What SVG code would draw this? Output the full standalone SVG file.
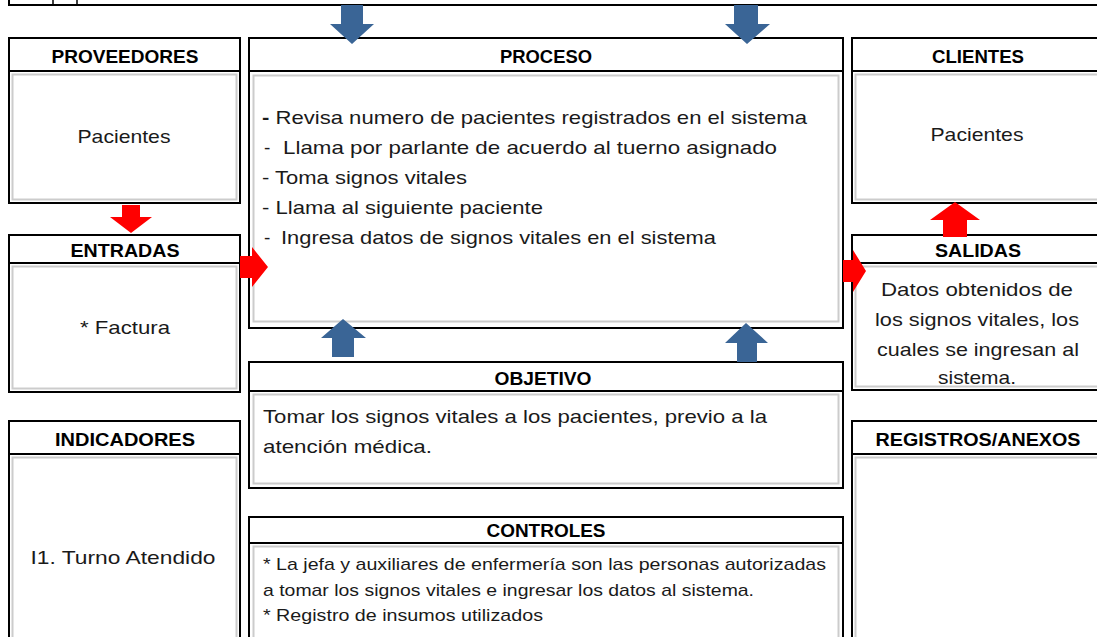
<svg xmlns="http://www.w3.org/2000/svg" width="1097" height="637" viewBox="0 0 1097 637">
<style>
.outer{fill:#fff;stroke:#000;stroke-width:2}
.inner{fill:none;stroke:#cccccc;stroke-width:2}
.sep{stroke:#000;stroke-width:2}
.hd{font-family:"Liberation Sans",Arial,sans-serif;font-weight:bold;font-size:19px;fill:#000;text-anchor:middle}
.tx{font-family:"Liberation Sans",Arial,sans-serif;font-size:19px;fill:#1a1a1a}
.c{text-anchor:middle}
.sm{font-size:17px}
.blue{fill:#3A6596}
.red{fill:#FF0000}
</style>
<rect width="1097" height="637" fill="#fff"/>
<g id="top-remnant">
<rect x="9" y="-10" width="1100" height="15" fill="none" stroke="#000" stroke-width="2"/>
<line x1="53" y1="0" x2="53" y2="5" stroke="#000" stroke-width="1.5"/>
<line x1="77" y1="0" x2="77" y2="5" stroke="#000" stroke-width="1.5"/>
</g>
<g id="proveedores">
<rect class="outer" x="9" y="38" width="231" height="165"/>
<line class="sep" x1="9" y1="71" x2="240" y2="71"/>
<rect class="inner" x="12.5" y="74.5" width="224" height="125"/>
<text class="hd" x="125" y="63" textLength="147" lengthAdjust="spacingAndGlyphs">PROVEEDORES</text>
<text class="tx c" x="124" y="143" textLength="93" lengthAdjust="spacingAndGlyphs">Pacientes</text>
</g>
<g id="proceso">
<rect class="outer" x="249" y="38" width="594" height="290"/>
<line class="sep" x1="249" y1="71" x2="843" y2="71"/>
<rect class="inner" x="253.5" y="75.5" width="585" height="246"/>
<text class="hd" x="546" y="63" textLength="92" lengthAdjust="spacingAndGlyphs">PROCESO</text>
<text class="tx" x="262" y="124" textLength="545" lengthAdjust="spacingAndGlyphs"><tspan font-weight="bold">-</tspan> Revisa numero de pacientes registrados en el sistema</text>
<text class="tx" x="264" y="154">-</text>
<text class="tx" x="283" y="154" textLength="494" lengthAdjust="spacingAndGlyphs">Llama por parlante de acuerdo al tuerno asignado</text>
<text class="tx" x="262" y="184" textLength="205" lengthAdjust="spacingAndGlyphs">- Toma signos vitales</text>
<text class="tx" x="262" y="214" textLength="281" lengthAdjust="spacingAndGlyphs">- Llama al siguiente paciente</text>
<text class="tx" x="264" y="244">-</text>
<text class="tx" x="281" y="244" textLength="435" lengthAdjust="spacingAndGlyphs">Ingresa datos de signos vitales en el sistema</text>
</g>
<g id="clientes">
<rect class="outer" x="852" y="38" width="250" height="165"/>
<line class="sep" x1="852" y1="71" x2="1100" y2="71"/>
<rect class="inner" x="855.5" y="74.5" width="250" height="125"/>
<text class="hd" x="978" y="63" textLength="92" lengthAdjust="spacingAndGlyphs">CLIENTES</text>
<text class="tx c" x="977" y="141" textLength="93" lengthAdjust="spacingAndGlyphs">Pacientes</text>
</g>
<g id="entradas">
<rect class="outer" x="9" y="235" width="231" height="157"/>
<line class="sep" x1="9" y1="263" x2="240" y2="263"/>
<rect class="inner" x="12.5" y="266.5" width="224" height="122"/>
<text class="hd" x="125" y="257" textLength="109" lengthAdjust="spacingAndGlyphs">ENTRADAS</text>
<text class="tx c" x="125" y="334" textLength="90" lengthAdjust="spacingAndGlyphs">* Factura</text>
</g>
<g id="salidas">
<rect class="outer" x="852" y="235" width="250" height="155"/>
<line class="sep" x1="852" y1="263" x2="1100" y2="263"/>
<rect class="inner" x="855.5" y="266.5" width="250" height="120"/>
<text class="hd" x="978" y="257" textLength="86" lengthAdjust="spacingAndGlyphs">SALIDAS</text>
<text class="tx c" x="977" y="296" textLength="192" lengthAdjust="spacingAndGlyphs">Datos obtenidos de</text>
<text class="tx c" x="977" y="326" textLength="204" lengthAdjust="spacingAndGlyphs">los signos vitales, los</text>
<text class="tx c" x="978" y="356" textLength="202" lengthAdjust="spacingAndGlyphs">cuales se ingresan al</text>
<text class="tx c" x="977" y="384" textLength="78" lengthAdjust="spacingAndGlyphs">sistema.</text>
</g>
<g id="objetivo">
<rect class="outer" x="249" y="362" width="594" height="126"/>
<line class="sep" x1="249" y1="391" x2="843" y2="391"/>
<rect class="inner" x="253.5" y="394.5" width="585" height="89"/>
<text class="hd" x="543" y="385" textLength="97" lengthAdjust="spacingAndGlyphs">OBJETIVO</text>
<text class="tx" x="263" y="423" textLength="504" lengthAdjust="spacingAndGlyphs">Tomar los signos vitales a los pacientes, previo a la</text>
<text class="tx" x="263" y="453" textLength="169" lengthAdjust="spacingAndGlyphs">atención médica.</text>
</g>
<g id="controles">
<rect class="outer" x="249" y="517" width="594" height="125"/>
<line class="sep" x1="249" y1="543" x2="843" y2="543"/>
<rect class="inner" x="253.5" y="546.5" width="585" height="95"/>
<text class="hd" x="546" y="537" textLength="119" lengthAdjust="spacingAndGlyphs">CONTROLES</text>
<text class="tx sm" x="263" y="570" textLength="563" lengthAdjust="spacingAndGlyphs">* La jefa y auxiliares de enfermería son las personas autorizadas</text>
<text class="tx sm" x="263" y="596" textLength="491" lengthAdjust="spacingAndGlyphs">a tomar los signos vitales e ingresar los datos al sistema.</text>
<text class="tx sm" x="263" y="621" textLength="280" lengthAdjust="spacingAndGlyphs">* Registro de insumos utilizados</text>
</g>
<g id="indicadores">
<rect class="outer" x="9" y="421" width="231" height="221"/>
<line class="sep" x1="9" y1="454" x2="240" y2="454"/>
<rect class="inner" x="12.5" y="457.5" width="224" height="185"/>
<text class="hd" x="125" y="446" textLength="140" lengthAdjust="spacingAndGlyphs">INDICADORES</text>
<text class="tx c" x="123" y="564" textLength="185" lengthAdjust="spacingAndGlyphs">I1. Turno Atendido</text>
</g>
<g id="registros-anexos">
<rect class="outer" x="852" y="421" width="250" height="221"/>
<line class="sep" x1="852" y1="454" x2="1100" y2="454"/>
<rect class="inner" x="855.5" y="457.5" width="250" height="185"/>
<text class="hd" x="978" y="446" textLength="205" lengthAdjust="spacingAndGlyphs">REGISTROS/ANEXOS</text>
</g>
<g id="connectors">
<polygon class="blue" points="341,5 363,5 363,24 374,24 352,44 330,24 341,24"/>
<polygon class="blue" points="734,5 758,5 758,24 770,24 747,44 725,24 734,24"/>
<polygon class="red" points="122,205 140,205 140,217 152,217 131,233 110,217 122,217"/>
<polygon class="red" points="240,256 252,256 252,247 268,267 252,287 252,278 240,278"/>
<polygon class="red" points="843,260 853,260 853,250 866,271 853,292 853,282 843,282"/>
<polygon class="red" points="943,237 967,237 967,220 980,220 955,202 930,220 943,220"/>
<polygon class="blue" points="332,357 354,357 354,338 366,338 343,319 321,338 332,338"/>
<polygon class="blue" points="737,362 757,362 757,343 768,343 746,323 725,343 737,343"/>
</g>
</svg>
